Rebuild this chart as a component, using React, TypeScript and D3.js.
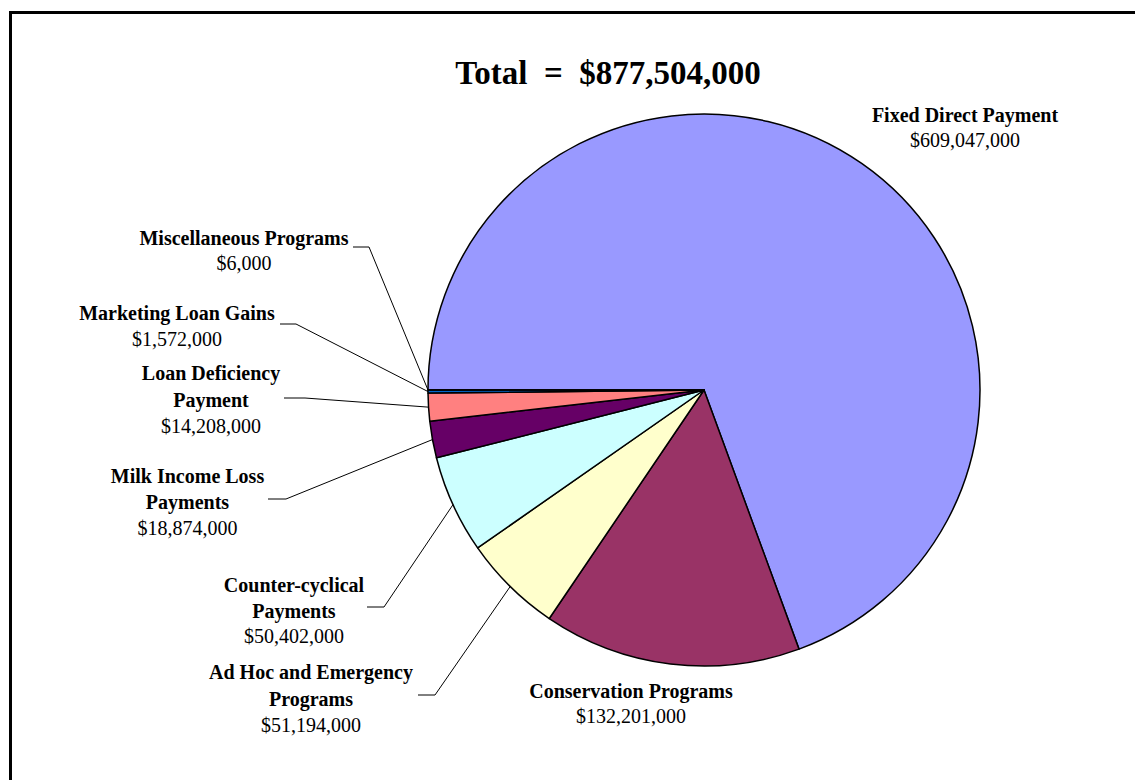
import React from "react";
import * as d3 from "d3";

const categories = [
  "Fixed Direct Payment",
  "Conservation Programs",
  "Ad Hoc and Emergency Programs",
  "Counter-cyclical Payments",
  "Milk Income Loss Payments",
  "Loan Deficiency Payment",
  "Marketing Loan Gains",
  "Miscellaneous Programs",
];
const values = [609047000, 132201000, 51194000, 50402000, 18874000, 14208000, 1572000, 6000];
const colors = ["#9999FF", "#993366", "#FFFFCC", "#CCFFFF", "#660066", "#FF8080", "#0066CC", "#CCCCFF"];

// layout (positions only)
type Lay = { lines: string[]; cx: number; base: number; lh: number; elbow?: [number, number, number] };
const layout: Record<string, Lay> = {
  "Fixed Direct Payment": { lines: ["Fixed Direct Payment"], cx: 965, base: 122, lh: 25 },
  "Conservation Programs": { lines: ["Conservation Programs"], cx: 631, base: 698, lh: 24.5 },
  "Ad Hoc and Emergency Programs": { lines: ["Ad Hoc and Emergency", "Programs"], cx: 311, base: 679, lh: 26.5, elbow: [418, 435, 695] },
  "Counter-cyclical Payments": { lines: ["Counter-cyclical", "Payments"], cx: 294, base: 592, lh: 25.5, elbow: [367, 384, 607] },
  "Milk Income Loss Payments": { lines: ["Milk Income Loss", "Payments"], cx: 187.5, base: 483, lh: 26, elbow: [268, 286, 499] },
  "Loan Deficiency Payment": { lines: ["Loan Deficiency", "Payment"], cx: 211, base: 380, lh: 26.5, elbow: [284, 305, 398] },
  "Marketing Loan Gains": { lines: ["Marketing Loan Gains"], cx: 177, base: 320, lh: 26, elbow: [280, 296, 324] },
  "Miscellaneous Programs": { lines: ["Miscellaneous Programs"], cx: 244, base: 245, lh: 25, elbow: [353, 369, 247] },
};

const W = 1135;
const H = 780;
const CX = 704;
const CY = 390;
const R = 276;
const FONT = "'Liberation Serif', 'Times New Roman', serif";

export default function App() {
  const data = categories.map((c, i) => ({ name: c, value: values[i], color: colors[i] }));
  const total = d3.sum(values);
  const fmt = d3.format("$,");
  const pie = d3
    .pie<{ name: string; value: number; color: string }>()
    .value((d) => d.value)
    .sort(null)
    .startAngle(-Math.PI / 2)
    .endAngle((3 * Math.PI) / 2);
  const arcs = pie(data);
  const arc = d3.arc<d3.PieArcDatum<any>>().innerRadius(0).outerRadius(R);

  return (
    <svg
      width={W}
      height={H}
      style={{ position: "absolute", left: 0, top: 0, background: "#fff" }}
      fontFamily={FONT}
    >
      <rect x={10.5} y={12.5} width={1400} height={1000} fill="#fff" stroke="#000" strokeWidth={3} />
      <text x={608} y={84} textAnchor="middle" fontSize={33} fontWeight="bold" style={{ whiteSpace: "pre" }}>
        {`Total  =  ${fmt(total)}`}
      </text>
      <g transform={`translate(${CX},${CY})`}>
        {arcs.map((a, i) => (
          <path key={i} d={arc(a) || ""} fill={a.data.color} stroke="#000" strokeWidth={1.5} strokeLinejoin="round" />
        ))}
      </g>
      {arcs.map((a, i) => {
        const L = layout[a.data.name];
        const mid = (a.startAngle + a.endAngle) / 2;
        const ex = CX + R * Math.sin(mid);
        const ey = CY - R * Math.cos(mid);
        const n = L.lines.length;
        return (
          <g key={"l" + i}>
            {L.elbow && (
              <polyline
                points={`${L.elbow[0]},${L.elbow[2]} ${L.elbow[1]},${L.elbow[2]} ${ex},${ey}`}
                fill="none"
                stroke="#000"
                strokeWidth={1}
              />
            )}
            {L.lines.map((t, j) => (
              <text key={j} x={L.cx} y={L.base + j * L.lh} textAnchor="middle" fontSize={20} fontWeight="bold">
                {t}
              </text>
            ))}
            <text x={L.cx} y={L.base + n * L.lh} textAnchor="middle" fontSize={20}>
              {fmt(a.data.value)}
            </text>
          </g>
        );
      })}
    </svg>
  );
}
